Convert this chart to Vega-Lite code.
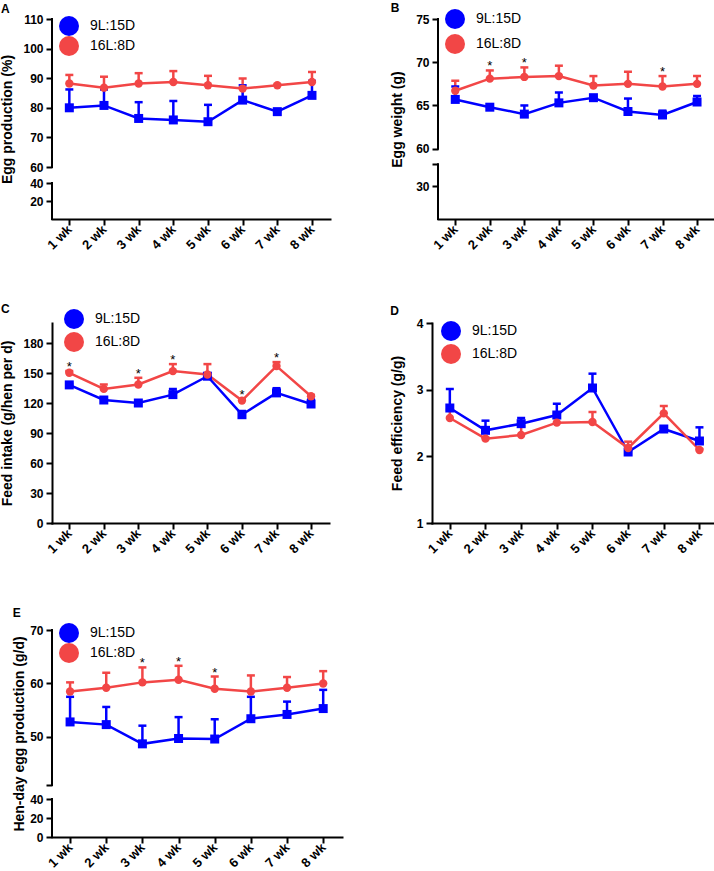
{
"$schema": "https://vega.github.io/schema/vega-lite/v6.json",
"background": "white",
"padding": {"left": 0, "top": 2, "right": 0, "bottom": 0},
"spacing": 51,
"config": {
  "view": {"stroke": null},
  "font": "Liberation Sans",
  "axis": {"grid": false, "labelFont": "Liberation Sans", "labelFontWeight": "bold", "labelFontSize": 12, "labelColor": "black", "labelPadding": 3, "titleFont": "Liberation Sans", "titleFontWeight": "bold", "titleFontSize": 14, "titleColor": "black", "domainColor": "black", "domainWidth": 2, "domainCap": "square", "tickColor": "black", "tickWidth": 2, "tickSize": 6, "labelOverlap": false, "labelFlush": false, "tickCount": 20},
  "legend": {"labelFont": "Liberation Sans", "labelFontSize": 14, "labelColor": "black", "symbolSize": 400, "labelOffset": 11, "padding": 0, "symbolStrokeWidth": 0, "orient": "none"},
  "title": {"anchor": "start", "frame": "bounds", "fontSize": 12, "fontWeight": "bold", "font": "Liberation Sans", "color": "black"}
},
"datasets": {
  "A": [
    {"wk":1,"grp":"9L:15D","mean":80.0,"top":86.2},{"wk":2,"grp":"9L:15D","mean":80.8,"top":86.2},{"wk":3,"grp":"9L:15D","mean":76.4,"top":81.9},{"wk":4,"grp":"9L:15D","mean":75.9,"top":82.3},{"wk":5,"grp":"9L:15D","mean":75.3,"top":81.0},{"wk":6,"grp":"9L:15D","mean":82.6,"top":87.6},{"wk":7,"grp":"9L:15D","mean":78.7,"top":78.9},{"wk":8,"grp":"9L:15D","mean":84.2,"top":89.1},
    {"wk":1,"grp":"16L:8D","mean":88.2,"top":91.1},{"wk":2,"grp":"16L:8D","mean":86.8,"top":90.5},{"wk":3,"grp":"16L:8D","mean":88.2,"top":91.7},{"wk":4,"grp":"16L:8D","mean":88.7,"top":92.4},{"wk":5,"grp":"16L:8D","mean":87.6,"top":90.8},{"wk":6,"grp":"16L:8D","mean":86.5,"top":89.9},{"wk":7,"grp":"16L:8D","mean":87.6,"top":87.8},{"wk":8,"grp":"16L:8D","mean":88.7,"top":92.1}
  ],
  "A_axis": [{"lo":0,"hi":40},{"lo":60,"hi":110}],
  "B": [
    {"wk":1,"grp":"9L:15D","mean":65.7,"top":67.2},{"wk":2,"grp":"9L:15D","mean":64.8,"top":65.1},{"wk":3,"grp":"9L:15D","mean":64.0,"top":65.0},{"wk":4,"grp":"9L:15D","mean":65.3,"top":66.5},{"wk":5,"grp":"9L:15D","mean":65.9,"top":66.0},{"wk":6,"grp":"9L:15D","mean":64.3,"top":65.8},{"wk":7,"grp":"9L:15D","mean":63.9,"top":64.4},{"wk":8,"grp":"9L:15D","mean":65.4,"top":66.1},
    {"wk":1,"grp":"16L:8D","mean":66.7,"top":67.85},{"wk":2,"grp":"16L:8D","mean":68.1,"top":69.05},{"wk":3,"grp":"16L:8D","mean":68.3,"top":69.4},{"wk":4,"grp":"16L:8D","mean":68.4,"top":69.6},{"wk":5,"grp":"16L:8D","mean":67.3,"top":68.4},{"wk":6,"grp":"16L:8D","mean":67.5,"top":68.9},{"wk":7,"grp":"16L:8D","mean":67.2,"top":68.4},{"wk":8,"grp":"16L:8D","mean":67.5,"top":68.4}
  ],
  "B_axis": [{"lo":0,"hi":50},{"lo":60,"hi":75}],
  "B_star": [{"wk":2,"y":69.05},{"wk":3,"y":69.4},{"wk":7,"y":68.4}],
  "C": [
    {"wk":1,"grp":"9L:15D","mean":138.1,"top":139},{"wk":2,"grp":"9L:15D","mean":123.0,"top":125},{"wk":3,"grp":"9L:15D","mean":120.0,"top":121},{"wk":4,"grp":"9L:15D","mean":128.4,"top":134},{"wk":5,"grp":"9L:15D","mean":146.8,"top":148},{"wk":6,"grp":"9L:15D","mean":108.3,"top":112},{"wk":7,"grp":"9L:15D","mean":130.1,"top":134.8},{"wk":8,"grp":"9L:15D","mean":119.0,"top":123.4},
    {"wk":1,"grp":"16L:8D","mean":150.2,"top":152},{"wk":2,"grp":"16L:8D","mean":134.1,"top":138.5},{"wk":3,"grp":"16L:8D","mean":138.5,"top":145.2},{"wk":4,"grp":"16L:8D","mean":151.9,"top":158.9},{"wk":5,"grp":"16L:8D","mean":148.5,"top":158.9},{"wk":6,"grp":"16L:8D","mean":122.4,"top":124},{"wk":7,"grp":"16L:8D","mean":156.9,"top":160.9},{"wk":8,"grp":"16L:8D","mean":126.7,"top":128}
  ],
  "C_star": [{"wk":1,"y":152},{"wk":3,"y":145.2},{"wk":4,"y":158.9},{"wk":6,"y":124},{"wk":7,"y":160.9}],
  "D": [
    {"wk":1,"grp":"9L:15D","mean":2.725,"top":3.01},{"wk":2,"grp":"9L:15D","mean":2.39,"top":2.535},{"wk":3,"grp":"9L:15D","mean":2.49,"top":2.575},{"wk":4,"grp":"9L:15D","mean":2.62,"top":2.79},{"wk":5,"grp":"9L:15D","mean":3.025,"top":3.24},{"wk":6,"grp":"9L:15D","mean":2.065,"top":2.08},{"wk":7,"grp":"9L:15D","mean":2.41,"top":2.43},{"wk":8,"grp":"9L:15D","mean":2.23,"top":2.435},
    {"wk":1,"grp":"16L:8D","mean":2.575,"top":2.7},{"wk":2,"grp":"16L:8D","mean":2.265,"top":2.28},{"wk":3,"grp":"16L:8D","mean":2.32,"top":2.45},{"wk":4,"grp":"16L:8D","mean":2.505,"top":2.65},{"wk":5,"grp":"16L:8D","mean":2.515,"top":2.665},{"wk":6,"grp":"16L:8D","mean":2.125,"top":2.22},{"wk":7,"grp":"16L:8D","mean":2.645,"top":2.755},{"wk":8,"grp":"16L:8D","mean":2.095,"top":2.11}
  ],
  "E": [
    {"wk":1,"grp":"9L:15D","mean":52.8,"top":57.5},{"wk":2,"grp":"9L:15D","mean":52.3,"top":55.6},{"wk":3,"grp":"9L:15D","mean":48.7,"top":52.1},{"wk":4,"grp":"9L:15D","mean":49.7,"top":53.7},{"wk":5,"grp":"9L:15D","mean":49.6,"top":53.3},{"wk":6,"grp":"9L:15D","mean":53.4,"top":57.5},{"wk":7,"grp":"9L:15D","mean":54.2,"top":56.6},{"wk":8,"grp":"9L:15D","mean":55.3,"top":58.8},
    {"wk":1,"grp":"16L:8D","mean":58.5,"top":60.2},{"wk":2,"grp":"16L:8D","mean":59.2,"top":62.0},{"wk":3,"grp":"16L:8D","mean":60.2,"top":63.0},{"wk":4,"grp":"16L:8D","mean":60.7,"top":63.3},{"wk":5,"grp":"16L:8D","mean":59.0,"top":61.3},{"wk":6,"grp":"16L:8D","mean":58.5,"top":61.5},{"wk":7,"grp":"16L:8D","mean":59.2,"top":61.2},{"wk":8,"grp":"16L:8D","mean":60.0,"top":62.3}
  ],
  "E_axis": [{"lo":0,"hi":40},{"lo":41,"hi":70}],
  "E_star": [{"wk":3,"y":63.0},{"wk":4,"y":63.3},{"wk":5,"y":61.3}]
},
"resolve": {"scale": {"x":"independent","y":"independent","color":"independent","shape":"independent","size":"independent","stroke":"independent","fill":"independent"}, "legend": {"color":"independent","shape":"independent","size":"independent","stroke":"independent","fill":"independent"}},
"vconcat": [
 {"spacing": 60,
  "resolve": {"scale": {"x":"independent","y":"independent","color":"independent","shape":"independent","size":"independent","stroke":"independent","fill":"independent"}, "legend": {"color":"independent","shape":"independent","size":"independent","stroke":"independent","fill":"independent"}},
  "hconcat": [
  {"title": {"text": "A", "offset": -3}, "width": 278, "height": 200,
   "layer": [
    {"data": {"name": "A_axis"}, "mark": {"type": "rule", "color": "black", "strokeWidth": 2, "strokeCap": "square"},
     "encoding": {"x": {"datum": 0.5, "type": "quantitative", "scale": {"domain": [0.5, 8.52], "nice": false, "zero": false}, "axis": {"values": [1,2,3,4,5,6,7,8], "labelExpr": "datum.value + ' wk'", "title": null, "labelAngle": -45, "labelAlign": "right", "labelBaseline": "middle", "labelFontSize": 13, "labelPadding": 2, "labelOverlap": false, "tickCount": 20}},
      "y": {"field": "lo", "type": "quantitative", "scale": {"domain": [0,40,60,110], "range": [200,164,148,0], "nice": false, "zero": false}, "axis": {"values": [20,40,60,70,80,90,100,110], "title": "Egg production (%)", "domain": false, "titlePadding": 8, "labelOverlap": false, "tickCount": 20}},
      "y2": {"field": "hi"}}},
    {"data": {"name": "A"}, "mark": {"type": "rule", "strokeWidth": 2.5},
     "encoding": {"x": {"field": "wk", "type": "quantitative", "scale": {"domain": [0.5, 8.52], "nice": false, "zero": false}},
      "y": {"field": "mean", "type": "quantitative", "scale": {"domain": [0,40,60,110], "range": [200,164,148,0], "nice": false, "zero": false}},
      "y2": {"field": "top"},
      "stroke": {"field": "grp", "type": "nominal", "scale": {"domain": ["16L:8D","9L:15D"], "range": ["#F24646","#0000FF"]}, "legend": null}}},
    {"data": {"name": "A"}, "mark": {"type": "tick", "orient": "horizontal", "size": 8, "thickness": 2.5, "opacity": 1},
     "encoding": {"x": {"field": "wk", "type": "quantitative", "scale": {"domain": [0.5, 8.52], "nice": false, "zero": false}},
      "y": {"field": "top", "type": "quantitative", "scale": {"domain": [0,40,60,110], "range": [200,164,148,0], "nice": false, "zero": false}},
      "fill": {"field": "grp", "type": "nominal", "scale": {"domain": ["16L:8D","9L:15D"], "range": ["#F24646","#0000FF"]}, "legend": null}}},
    {"data": {"name": "A"}, "mark": {"type": "line", "strokeWidth": 2.5},
     "encoding": {"x": {"field": "wk", "type": "quantitative", "scale": {"domain": [0.5, 8.52], "nice": false, "zero": false}},
      "y": {"field": "mean", "type": "quantitative", "scale": {"domain": [0,40,60,110], "range": [200,164,148,0], "nice": false, "zero": false}},
      "stroke": {"field": "grp", "type": "nominal", "scale": {"domain": ["16L:8D","9L:15D"], "range": ["#F24646","#0000FF"]}, "legend": null}}},
    {"data": {"name": "A"}, "mark": {"type": "point", "filled": true, "opacity": 1},
     "encoding": {"x": {"field": "wk", "type": "quantitative", "scale": {"domain": [0.5, 8.52], "nice": false, "zero": false}},
      "y": {"field": "mean", "type": "quantitative", "scale": {"domain": [0,40,60,110], "range": [200,164,148,0], "nice": false, "zero": false}},
      "size": {"field": "grp", "type": "nominal", "scale": {"domain": ["16L:8D","9L:15D"], "range": [70,81]}, "legend": null},
      "shape": {"field": "grp", "type": "nominal", "scale": {"domain": ["16L:8D","9L:15D"], "range": ["circle","square"]}, "legend": null},
      "color": {"field": "grp", "type": "nominal", "scale": {"domain": ["9L:15D","16L:8D"], "range": ["#0000FF","#F24646"]}, "legend": {"title": null, "orient": "none", "legendX": 7, "legendY": -3, "rowPadding": 0, "symbolSize": 400}}}},
    {"data": {"name": "A"}, "mark": {"type": "point", "filled": true, "opacity": 0},
     "encoding": {"x": {"field": "wk", "type": "quantitative", "scale": {"domain": [0.5, 8.52], "nice": false, "zero": false}},
      "y": {"field": "mean", "type": "quantitative", "scale": {"domain": [0,40,60,110], "range": [200,164,148,0], "nice": false, "zero": false}},
      "shape": {"field": "grp", "type": "nominal", "scale": {"domain": ["9L:15D","16L:8D"], "range": ["M-1,-0.11H1V0.11H-1Z M-0.42,-0.42H0.42V0.42H-0.42Z", "M-1,-0.11H1V0.11H-1Z M0.46,0A0.46,0.46,0,1,1,-0.46,0A0.46,0.46,0,1,1,0.46,0Z"]}, "legend": {"title": null, "orient": "none", "legendX": 7, "legendY": -3, "rowPadding": 0, "symbolSize": 400}}}}
   ]},
  {"title": {"text": "B", "offset": -6}, "width": 277, "height": 200,
   "layer": [
    {"data": {"name": "B_axis"}, "mark": {"type": "rule", "color": "black", "strokeWidth": 2, "strokeCap": "square"},
     "encoding": {"x": {"datum": 0.5, "type": "quantitative", "scale": {"domain": [0.5, 8.52], "nice": false, "zero": false}, "axis": {"values": [1,2,3,4,5,6,7,8], "labelExpr": "datum.value + ' wk'", "title": null, "labelAngle": -45, "labelAlign": "right", "labelBaseline": "middle", "labelFontSize": 13, "labelPadding": 2, "labelOverlap": false, "tickCount": 20}},
      "y": {"field": "lo", "type": "quantitative", "scale": {"domain": [0,50,60,75], "range": [200,145.3,129.7,0], "nice": false, "zero": false}, "axis": {"values": [30,50,60,65,70,75], "labelExpr": "datum.value == 50 ? '' : datum.label", "title": "Egg weight (g)", "domain": false, "titlePadding": 11, "labelOverlap": false, "tickCount": 20}},
      "y2": {"field": "hi"}}},
    {"data": {"name": "B"}, "mark": {"type": "rule", "strokeWidth": 2.5},
     "encoding": {"x": {"field": "wk", "type": "quantitative", "scale": {"domain": [0.5, 8.52], "nice": false, "zero": false}},
      "y": {"field": "mean", "type": "quantitative", "scale": {"domain": [0,50,60,75], "range": [200,145.3,129.7,0], "nice": false, "zero": false}},
      "y2": {"field": "top"},
      "stroke": {"field": "grp", "type": "nominal", "scale": {"domain": ["16L:8D","9L:15D"], "range": ["#F24646","#0000FF"]}, "legend": null}}},
    {"data": {"name": "B"}, "mark": {"type": "tick", "orient": "horizontal", "size": 8, "thickness": 2.5, "opacity": 1},
     "encoding": {"x": {"field": "wk", "type": "quantitative", "scale": {"domain": [0.5, 8.52], "nice": false, "zero": false}},
      "y": {"field": "top", "type": "quantitative", "scale": {"domain": [0,50,60,75], "range": [200,145.3,129.7,0], "nice": false, "zero": false}},
      "fill": {"field": "grp", "type": "nominal", "scale": {"domain": ["16L:8D","9L:15D"], "range": ["#F24646","#0000FF"]}, "legend": null}}},
    {"data": {"name": "B"}, "mark": {"type": "line", "strokeWidth": 2.5},
     "encoding": {"x": {"field": "wk", "type": "quantitative", "scale": {"domain": [0.5, 8.52], "nice": false, "zero": false}},
      "y": {"field": "mean", "type": "quantitative", "scale": {"domain": [0,50,60,75], "range": [200,145.3,129.7,0], "nice": false, "zero": false}},
      "stroke": {"field": "grp", "type": "nominal", "scale": {"domain": ["16L:8D","9L:15D"], "range": ["#F24646","#0000FF"]}, "legend": null}}},
    {"data": {"name": "B"}, "mark": {"type": "point", "filled": true, "opacity": 1},
     "encoding": {"x": {"field": "wk", "type": "quantitative", "scale": {"domain": [0.5, 8.52], "nice": false, "zero": false}},
      "y": {"field": "mean", "type": "quantitative", "scale": {"domain": [0,50,60,75], "range": [200,145.3,129.7,0], "nice": false, "zero": false}},
      "size": {"field": "grp", "type": "nominal", "scale": {"domain": ["16L:8D","9L:15D"], "range": [70,81]}, "legend": null},
      "shape": {"field": "grp", "type": "nominal", "scale": {"domain": ["16L:8D","9L:15D"], "range": ["circle","square"]}, "legend": null},
      "color": {"field": "grp", "type": "nominal", "scale": {"domain": ["9L:15D","16L:8D"], "range": ["#0000FF","#F24646"]}, "legend": {"title": null, "orient": "none", "legendX": 7, "legendY": -10, "rowPadding": 5, "symbolSize": 400}}}},
    {"data": {"name": "B"}, "mark": {"type": "point", "filled": true, "opacity": 0},
     "encoding": {"x": {"field": "wk", "type": "quantitative", "scale": {"domain": [0.5, 8.52], "nice": false, "zero": false}},
      "y": {"field": "mean", "type": "quantitative", "scale": {"domain": [0,50,60,75], "range": [200,145.3,129.7,0], "nice": false, "zero": false}},
      "shape": {"field": "grp", "type": "nominal", "scale": {"domain": ["9L:15D","16L:8D"], "range": ["M-1,-0.11H1V0.11H-1Z M-0.42,-0.42H0.42V0.42H-0.42Z", "M-1,-0.11H1V0.11H-1Z M0.46,0A0.46,0.46,0,1,1,-0.46,0A0.46,0.46,0,1,1,0.46,0Z"]}, "legend": {"title": null, "orient": "none", "legendX": 7, "legendY": -10, "rowPadding": 5, "symbolSize": 400}}}},
    {"data": {"name": "B_star"}, "mark": {"type": "text", "text": "*", "fontSize": 13, "baseline": "alphabetic", "color": "black", "font": "Liberation Sans"},
     "encoding": {"x": {"field": "wk", "type": "quantitative", "scale": {"domain": [0.5, 8.52], "nice": false, "zero": false}},
      "y": {"field": "y", "type": "quantitative", "scale": {"domain": [0,50,60,75], "range": [200,145.3,129.7,0], "nice": false, "zero": false}}}}
   ]}
 ]},
 {"spacing": 61,
  "resolve": {"scale": {"x":"independent","y":"independent","color":"independent","shape":"independent","size":"independent","stroke":"independent","fill":"independent"}, "legend": {"color":"independent","shape":"independent","size":"independent","stroke":"independent","fill":"independent"}},
  "hconcat": [
  {"title": {"text": "C", "offset": -7}, "width": 277, "height": 200,
   "layer": [
    {"data": {"name": "C"}, "mark": {"type": "rule", "strokeWidth": 2.5},
     "encoding": {"x": {"field": "wk", "type": "quantitative", "scale": {"domain": [0.5, 8.52], "nice": false, "zero": false}, "axis": {"values": [1,2,3,4,5,6,7,8], "labelExpr": "datum.value + ' wk'", "title": null, "labelAngle": -45, "labelAlign": "right", "labelBaseline": "middle", "labelFontSize": 13, "labelPadding": 2, "labelOverlap": false, "tickCount": 20}},
      "y": {"field": "mean", "type": "quantitative", "scale": {"domain": [0,200], "nice": false, "zero": false}, "axis": {"values": [0,30,60,90,120,150,180], "title": "Feed intake (g/hen per d)", "titlePadding": 8, "labelOverlap": false, "tickCount": 20}},
      "y2": {"field": "top"},
      "stroke": {"field": "grp", "type": "nominal", "scale": {"domain": ["16L:8D","9L:15D"], "range": ["#F24646","#0000FF"]}, "legend": null}}},
    {"data": {"name": "C"}, "mark": {"type": "tick", "orient": "horizontal", "size": 8, "thickness": 2.5, "opacity": 1},
     "encoding": {"x": {"field": "wk", "type": "quantitative", "scale": {"domain": [0.5, 8.52], "nice": false, "zero": false}},
      "y": {"field": "top", "type": "quantitative", "scale": {"domain": [0,200], "nice": false, "zero": false}},
      "fill": {"field": "grp", "type": "nominal", "scale": {"domain": ["16L:8D","9L:15D"], "range": ["#F24646","#0000FF"]}, "legend": null}}},
    {"data": {"name": "C"}, "mark": {"type": "line", "strokeWidth": 2.5},
     "encoding": {"x": {"field": "wk", "type": "quantitative", "scale": {"domain": [0.5, 8.52], "nice": false, "zero": false}},
      "y": {"field": "mean", "type": "quantitative", "scale": {"domain": [0,200], "nice": false, "zero": false}},
      "stroke": {"field": "grp", "type": "nominal", "scale": {"domain": ["16L:8D","9L:15D"], "range": ["#F24646","#0000FF"]}, "legend": null}}},
    {"data": {"name": "C"}, "mark": {"type": "point", "filled": true, "opacity": 1},
     "encoding": {"x": {"field": "wk", "type": "quantitative", "scale": {"domain": [0.5, 8.52], "nice": false, "zero": false}},
      "y": {"field": "mean", "type": "quantitative", "scale": {"domain": [0,200], "nice": false, "zero": false}},
      "size": {"field": "grp", "type": "nominal", "scale": {"domain": ["16L:8D","9L:15D"], "range": [70,81]}, "legend": null},
      "shape": {"field": "grp", "type": "nominal", "scale": {"domain": ["16L:8D","9L:15D"], "range": ["circle","square"]}, "legend": null},
      "color": {"field": "grp", "type": "nominal", "scale": {"domain": ["9L:15D","16L:8D"], "range": ["#0000FF","#F24646"]}, "legend": {"title": null, "orient": "none", "legendX": 12, "legendY": -14, "rowPadding": 3, "symbolSize": 400}}}},
    {"data": {"name": "C"}, "mark": {"type": "point", "filled": true, "opacity": 0},
     "encoding": {"x": {"field": "wk", "type": "quantitative", "scale": {"domain": [0.5, 8.52], "nice": false, "zero": false}},
      "y": {"field": "mean", "type": "quantitative", "scale": {"domain": [0,200], "nice": false, "zero": false}},
      "shape": {"field": "grp", "type": "nominal", "scale": {"domain": ["9L:15D","16L:8D"], "range": ["M-1,-0.11H1V0.11H-1Z M-0.42,-0.42H0.42V0.42H-0.42Z", "M-1,-0.11H1V0.11H-1Z M0.46,0A0.46,0.46,0,1,1,-0.46,0A0.46,0.46,0,1,1,0.46,0Z"]}, "legend": {"title": null, "orient": "none", "legendX": 12, "legendY": -14, "rowPadding": 3, "symbolSize": 400}}}},
    {"data": {"name": "C_star"}, "mark": {"type": "text", "text": "*", "fontSize": 13, "baseline": "alphabetic", "color": "black", "font": "Liberation Sans"},
     "encoding": {"x": {"field": "wk", "type": "quantitative", "scale": {"domain": [0.5, 8.52], "nice": false, "zero": false}},
      "y": {"field": "y", "type": "quantitative", "scale": {"domain": [0,200], "nice": false, "zero": false}}}}
   ]},
  {"title": {"text": "D", "offset": -1}, "width": 286, "height": 200,
   "layer": [
    {"data": {"name": "D"}, "mark": {"type": "rule", "strokeWidth": 2.5},
     "encoding": {"x": {"field": "wk", "type": "quantitative", "scale": {"domain": [0.5, 8.52], "nice": false, "zero": false}, "axis": {"values": [1,2,3,4,5,6,7,8], "labelExpr": "datum.value + ' wk'", "title": null, "labelAngle": -45, "labelAlign": "right", "labelBaseline": "middle", "labelFontSize": 13, "labelPadding": 2, "labelOverlap": false, "tickCount": 20}},
      "y": {"field": "mean", "type": "quantitative", "scale": {"domain": [1,4], "nice": false, "zero": false}, "axis": {"values": [1,2,3,4], "format": "d", "title": "Feed efficiency (g/g)", "titlePadding": 12, "labelOverlap": false, "tickCount": 20}},
      "y2": {"field": "top"},
      "stroke": {"field": "grp", "type": "nominal", "scale": {"domain": ["16L:8D","9L:15D"], "range": ["#F24646","#0000FF"]}, "legend": null}}},
    {"data": {"name": "D"}, "mark": {"type": "tick", "orient": "horizontal", "size": 8, "thickness": 2.5, "opacity": 1},
     "encoding": {"x": {"field": "wk", "type": "quantitative", "scale": {"domain": [0.5, 8.52], "nice": false, "zero": false}},
      "y": {"field": "top", "type": "quantitative", "scale": {"domain": [1,4], "nice": false, "zero": false}},
      "fill": {"field": "grp", "type": "nominal", "scale": {"domain": ["16L:8D","9L:15D"], "range": ["#F24646","#0000FF"]}, "legend": null}}},
    {"data": {"name": "D"}, "mark": {"type": "line", "strokeWidth": 2.5},
     "encoding": {"x": {"field": "wk", "type": "quantitative", "scale": {"domain": [0.5, 8.52], "nice": false, "zero": false}},
      "y": {"field": "mean", "type": "quantitative", "scale": {"domain": [1,4], "nice": false, "zero": false}},
      "stroke": {"field": "grp", "type": "nominal", "scale": {"domain": ["16L:8D","9L:15D"], "range": ["#F24646","#0000FF"]}, "legend": null}}},
    {"data": {"name": "D"}, "mark": {"type": "point", "filled": true, "opacity": 1},
     "encoding": {"x": {"field": "wk", "type": "quantitative", "scale": {"domain": [0.5, 8.52], "nice": false, "zero": false}},
      "y": {"field": "mean", "type": "quantitative", "scale": {"domain": [1,4], "nice": false, "zero": false}},
      "size": {"field": "grp", "type": "nominal", "scale": {"domain": ["16L:8D","9L:15D"], "range": [70,81]}, "legend": null},
      "shape": {"field": "grp", "type": "nominal", "scale": {"domain": ["16L:8D","9L:15D"], "range": ["circle","square"]}, "legend": null},
      "color": {"field": "grp", "type": "nominal", "scale": {"domain": ["9L:15D","16L:8D"], "range": ["#0000FF","#F24646"]}, "legend": {"title": null, "orient": "none", "legendX": 9, "legendY": -2, "rowPadding": 3, "symbolSize": 400}}}},
    {"data": {"name": "D"}, "mark": {"type": "point", "filled": true, "opacity": 0},
     "encoding": {"x": {"field": "wk", "type": "quantitative", "scale": {"domain": [0.5, 8.52], "nice": false, "zero": false}},
      "y": {"field": "mean", "type": "quantitative", "scale": {"domain": [1,4], "nice": false, "zero": false}},
      "shape": {"field": "grp", "type": "nominal", "scale": {"domain": ["9L:15D","16L:8D"], "range": ["M-1,-0.11H1V0.11H-1Z M-0.42,-0.42H0.42V0.42H-0.42Z", "M-1,-0.11H1V0.11H-1Z M0.46,0A0.46,0.46,0,1,1,-0.46,0A0.46,0.46,0,1,1,0.46,0Z"]}, "legend": {"title": null, "orient": "none", "legendX": 9, "legendY": -2, "rowPadding": 3, "symbolSize": 400}}}}
   ]}
 ]},
 {"resolve": {"scale": {"x":"independent","y":"independent","color":"independent","shape":"independent","size":"independent","stroke":"independent","fill":"independent"}, "legend": {"color":"independent","shape":"independent","size":"independent","stroke":"independent","fill":"independent"}},
  "hconcat": [
  {"title": {"text": "E", "offset": 3}, "width": 290, "height": 207,
   "layer": [
    {"data": {"name": "E_axis"}, "mark": {"type": "rule", "color": "black", "strokeWidth": 2, "strokeCap": "square"},
     "encoding": {"x": {"datum": 0.5, "type": "quantitative", "scale": {"domain": [0.5, 8.52], "nice": false, "zero": false}, "axis": {"values": [1,2,3,4,5,6,7,8], "labelExpr": "datum.value + ' wk'", "title": null, "labelAngle": -45, "labelAlign": "right", "labelBaseline": "middle", "labelFontSize": 13, "labelPadding": 2, "labelOverlap": false, "tickCount": 20}},
      "y": {"field": "lo", "type": "quantitative", "scale": {"domain": [0,40,41,70], "range": [207,169,155,0], "nice": false, "zero": false}, "axis": {"values": [0,20,40,41,50,60,70], "labelExpr": "datum.value == 41 ? '' : datum.label", "title": "Hen-day egg production (g/d)", "domain": false, "titlePadding": 3, "labelOverlap": false, "tickCount": 20}},
      "y2": {"field": "hi"}}},
    {"data": {"name": "E"}, "mark": {"type": "rule", "strokeWidth": 2.5},
     "encoding": {"x": {"field": "wk", "type": "quantitative", "scale": {"domain": [0.5, 8.52], "nice": false, "zero": false}},
      "y": {"field": "mean", "type": "quantitative", "scale": {"domain": [0,40,41,70], "range": [207,169,155,0], "nice": false, "zero": false}},
      "y2": {"field": "top"},
      "stroke": {"field": "grp", "type": "nominal", "scale": {"domain": ["16L:8D","9L:15D"], "range": ["#F24646","#0000FF"]}, "legend": null}}},
    {"data": {"name": "E"}, "mark": {"type": "tick", "orient": "horizontal", "size": 8, "thickness": 2.5, "opacity": 1},
     "encoding": {"x": {"field": "wk", "type": "quantitative", "scale": {"domain": [0.5, 8.52], "nice": false, "zero": false}},
      "y": {"field": "top", "type": "quantitative", "scale": {"domain": [0,40,41,70], "range": [207,169,155,0], "nice": false, "zero": false}},
      "fill": {"field": "grp", "type": "nominal", "scale": {"domain": ["16L:8D","9L:15D"], "range": ["#F24646","#0000FF"]}, "legend": null}}},
    {"data": {"name": "E"}, "mark": {"type": "line", "strokeWidth": 2.5},
     "encoding": {"x": {"field": "wk", "type": "quantitative", "scale": {"domain": [0.5, 8.52], "nice": false, "zero": false}},
      "y": {"field": "mean", "type": "quantitative", "scale": {"domain": [0,40,41,70], "range": [207,169,155,0], "nice": false, "zero": false}},
      "stroke": {"field": "grp", "type": "nominal", "scale": {"domain": ["16L:8D","9L:15D"], "range": ["#F24646","#0000FF"]}, "legend": null}}},
    {"data": {"name": "E"}, "mark": {"type": "point", "filled": true, "opacity": 1},
     "encoding": {"x": {"field": "wk", "type": "quantitative", "scale": {"domain": [0.5, 8.52], "nice": false, "zero": false}},
      "y": {"field": "mean", "type": "quantitative", "scale": {"domain": [0,40,41,70], "range": [207,169,155,0], "nice": false, "zero": false}},
      "size": {"field": "grp", "type": "nominal", "scale": {"domain": ["16L:8D","9L:15D"], "range": [70,81]}, "legend": null},
      "shape": {"field": "grp", "type": "nominal", "scale": {"domain": ["16L:8D","9L:15D"], "range": ["circle","square"]}, "legend": null},
      "color": {"field": "grp", "type": "nominal", "scale": {"domain": ["9L:15D","16L:8D"], "range": ["#0000FF","#F24646"]}, "legend": {"title": null, "orient": "none", "legendX": 7, "legendY": -7, "rowPadding": 0, "symbolSize": 400}}}},
    {"data": {"name": "E"}, "mark": {"type": "point", "filled": true, "opacity": 0},
     "encoding": {"x": {"field": "wk", "type": "quantitative", "scale": {"domain": [0.5, 8.52], "nice": false, "zero": false}},
      "y": {"field": "mean", "type": "quantitative", "scale": {"domain": [0,40,41,70], "range": [207,169,155,0], "nice": false, "zero": false}},
      "shape": {"field": "grp", "type": "nominal", "scale": {"domain": ["9L:15D","16L:8D"], "range": ["M-1,-0.11H1V0.11H-1Z M-0.42,-0.42H0.42V0.42H-0.42Z", "M-1,-0.11H1V0.11H-1Z M0.46,0A0.46,0.46,0,1,1,-0.46,0A0.46,0.46,0,1,1,0.46,0Z"]}, "legend": {"title": null, "orient": "none", "legendX": 7, "legendY": -7, "rowPadding": 0, "symbolSize": 400}}}},
    {"data": {"name": "E_star"}, "mark": {"type": "text", "text": "*", "fontSize": 13, "baseline": "alphabetic", "color": "black", "font": "Liberation Sans"},
     "encoding": {"x": {"field": "wk", "type": "quantitative", "scale": {"domain": [0.5, 8.52], "nice": false, "zero": false}},
      "y": {"field": "y", "type": "quantitative", "scale": {"domain": [0,40,41,70], "range": [207,169,155,0], "nice": false, "zero": false}}}}
   ]}
 ]}
]
}
